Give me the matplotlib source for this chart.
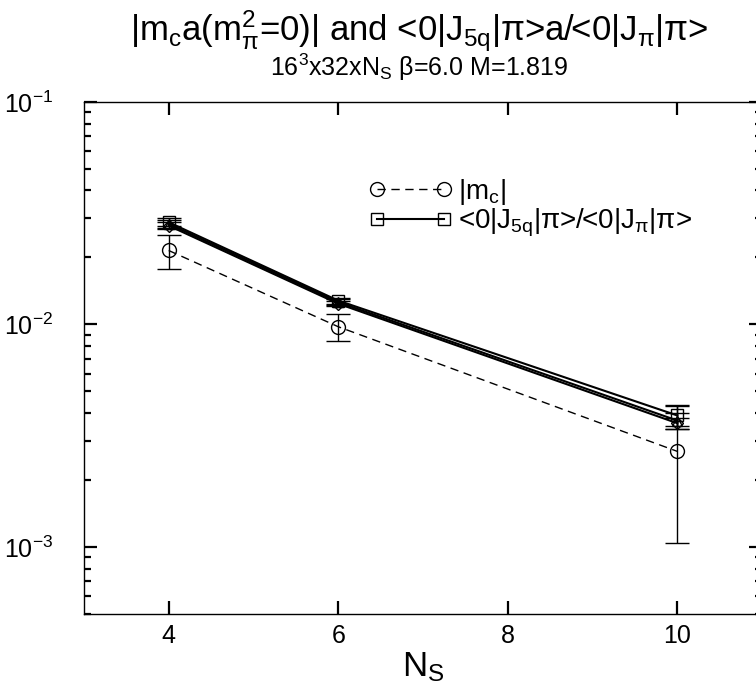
import numpy as np
import matplotlib
matplotlib.use('Agg')
import matplotlib.pyplot as plt
from matplotlib.ticker import NullLocator, NullFormatter, LogLocator

plt.rcParams['font.family'] = ['Liberation Sans', 'DejaVu Sans']
plt.rcParams['mathtext.fontset'] = 'custom'
plt.rcParams['mathtext.rm'] = 'Liberation Sans'
plt.rcParams['mathtext.it'] = 'Liberation Sans'
plt.rcParams['mathtext.sf'] = 'Liberation Sans'

# data
ns = [4, 6, 10]
mc = [0.0215, 0.00977, 0.00269]
mc_err = [0.0037, 0.00135, 0.00165]
# three overlapping <0|J5q|pi>/<0|J_pi|pi> estimates
ratio_s = [0.0288, 0.0128, 0.0039]
ratio_s_err = [0.0012, 0.0004, 0.0004]
ratio_t = [0.0283, 0.0126, 0.0037]
ratio_t_err = [0.0012, 0.0004, 0.0003]
ratio_d = [0.0278, 0.0124, 0.0036]
ratio_d_err = [0.0010, 0.0003, 0.0002]

fig = plt.figure(figsize=(7.56, 6.94), dpi=100)
ax = fig.add_axes([0.111, 0.1153, 0.897, 0.7378])

ekw = dict(capsize=8.5, elinewidth=1.0, capthick=1.3, color='black',
           mfc='none', mec='black')

e_mc = ax.errorbar(ns, mc, yerr=mc_err, fmt='o', ls=(0, (6, 4)), lw=1.0,
                   ms=10, mew=1.0, **ekw)
ax.errorbar(ns, ratio_d, yerr=ratio_d_err, fmt='D', ls='-', lw=1.5, ms=6,
            mew=1.0, **ekw)
ax.errorbar(ns, ratio_t, yerr=ratio_t_err, fmt='^', ls='-', lw=1.5, ms=7,
            mew=1.0, **ekw)
e_s = ax.errorbar(ns, ratio_s, yerr=ratio_s_err, fmt='s', ls='-', lw=1.5,
                  ms=8, mew=1.0, **ekw)

ax.set_yscale('log')
ax.set_xlim(3, 11)
ax.set_ylim(5e-4, 1e-1)
ax.set_xticks([4, 6, 8, 10])
ax.xaxis.set_minor_locator(NullLocator())
ax.yaxis.set_major_locator(LogLocator(base=10, numticks=10))
ax.yaxis.set_minor_formatter(NullFormatter())

ax.tick_params(which='both', direction='in', top=True, right=True,
               labelsize=18, width=1.6)
ax.tick_params(which='major', length=9.5)
ax.tick_params(which='minor', length=5)
ax.tick_params(axis='y', pad=22)
ax.tick_params(axis='x', pad=7)
for s in ax.spines.values():
    s.set_linewidth(1.0)

ax.set_xlabel('N$_\\mathregular{S}$', fontsize=25, labelpad=2)

fig.text(0.555, 1 - 31 / 694,
         '|m$_\\mathregular{c}$a(m$_\\mathregular{\u03c0}^\\mathregular{2}$=0)| and '
         '<0|J$_\\mathregular{5q}$|\u03c0>a/<0|J$_\\mathregular{\u03c0}$|\u03c0>',
         ha='center', va='center', fontsize=25)
fig.text(0.555, 1 - 67 / 694,
         '16$^\\mathregular{3}$x32xN$_\\mathregular{S}$ \u03b2=6.0 M=1.819',
         ha='center', va='center', fontsize=18)

leg = ax.legend([e_mc[0], e_s[0]],
                ['|m$_\\mathregular{c}$|',
                 '<0|J$_\\mathregular{5q}$|\u03c0>/<0|J$_\\mathregular{\u03c0}$|\u03c0>'],
                loc='upper left', bbox_to_anchor=(358 / 756, 1 - 166 / 694),
                bbox_transform=fig.transFigure, frameon=False, fontsize=20,
                numpoints=2, handlelength=3.0, handletextpad=0.2,
                labelspacing=0.0, borderaxespad=0)

fig.savefig('out.png', dpi=100)
